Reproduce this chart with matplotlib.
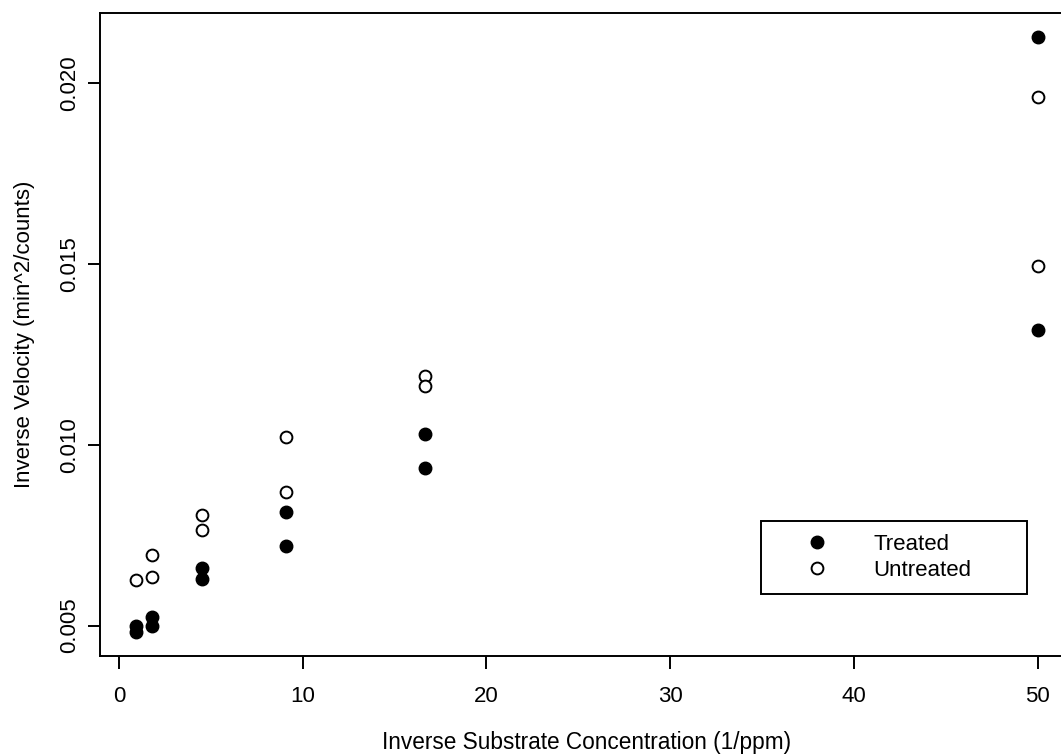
import numpy as np
import matplotlib.pyplot as plt

plt.rcParams['font.family'] = ['Liberation Sans', 'DejaVu Sans']

# Lineweaver-Burk data: 1/concentration vs 1/rate
treated_x = [50.0, 50.0, 16.67, 16.67, 9.09, 9.09, 4.545, 4.545, 1.786, 1.786, 0.909, 0.909]
treated_y = [0.01316, 0.02128, 0.01031, 0.00935, 0.00813, 0.00719,
             0.00629, 0.00658, 0.00524, 0.00498, 0.00483, 0.00500]
untreated_x = [50.0, 50.0, 16.67, 16.67, 9.09, 9.09, 4.545, 4.545, 1.786, 1.786, 0.909]
untreated_y = [0.01493, 0.01961, 0.01190, 0.01163, 0.01020, 0.00870,
               0.00763, 0.00806, 0.00694, 0.00633, 0.00625]

xticks = [0, 10, 20, 30, 40, 50]
yticks = [0.005, 0.010, 0.015, 0.020]

FS = 16
W, H = 1061, 755
fig = plt.figure(figsize=(W / 100, H / 100), dpi=100)
ax = fig.add_axes([99.5 / W, 1 - 655.5 / H, (1074 - 99.5) / W, (655.5 - 13) / H])

ax.plot(treated_x, treated_y, 'o', color='black', markersize=9, label='Treated')
ax.plot(untreated_x, untreated_y, 'o', markerfacecolor='white', markeredgecolor='black',
        markeredgewidth=1.4, markersize=8.5, label='Untreated')

# R-style 4% padding around the data range
xall = treated_x + untreated_x
yall = treated_y + untreated_y
xr = max(xall) - min(xall)
yr = max(yall) - min(yall)
ax.set_xlim(min(xall) - 0.04 * xr, max(xall) + 0.04 * xr)
ax.set_ylim(min(yall) - 0.04 * yr, max(yall) + 0.04 * yr)

ax.set_xticks(xticks)
ax.set_xticklabels([str(t) for t in xticks])
ax.set_yticks(yticks)
ax.set_yticklabels(['%.3f' % t for t in yticks], rotation=90, va='center')

for s in ax.spines.values():
    s.set_linewidth(1.4)
ax.tick_params(direction='out', length=9, width=1.4, labelsize=FS)
ax.tick_params(axis='x', pad=13)
ax.tick_params(axis='y', pad=5)

ax.set_xlabel('Inverse Substrate Concentration (1/ppm)', fontsize=16.3, labelpad=17)
ax.set_ylabel('Inverse Velocity (min^2/counts)', fontsize=FS, labelpad=17)

leg = ax.legend(loc='lower left', bbox_to_anchor=(761 / W, 1 - 594 / H, 266 / W, 77 / H),
                bbox_transform=fig.transFigure, mode='expand', fontsize=FS,
                frameon=True, fancybox=False, edgecolor='black', framealpha=1,
                borderpad=0.6, handlelength=3.8, handletextpad=0.67, labelspacing=0.2,
                borderaxespad=0)
leg.get_frame().set_linewidth(1.4)

fig.savefig('out.png', dpi=100)
